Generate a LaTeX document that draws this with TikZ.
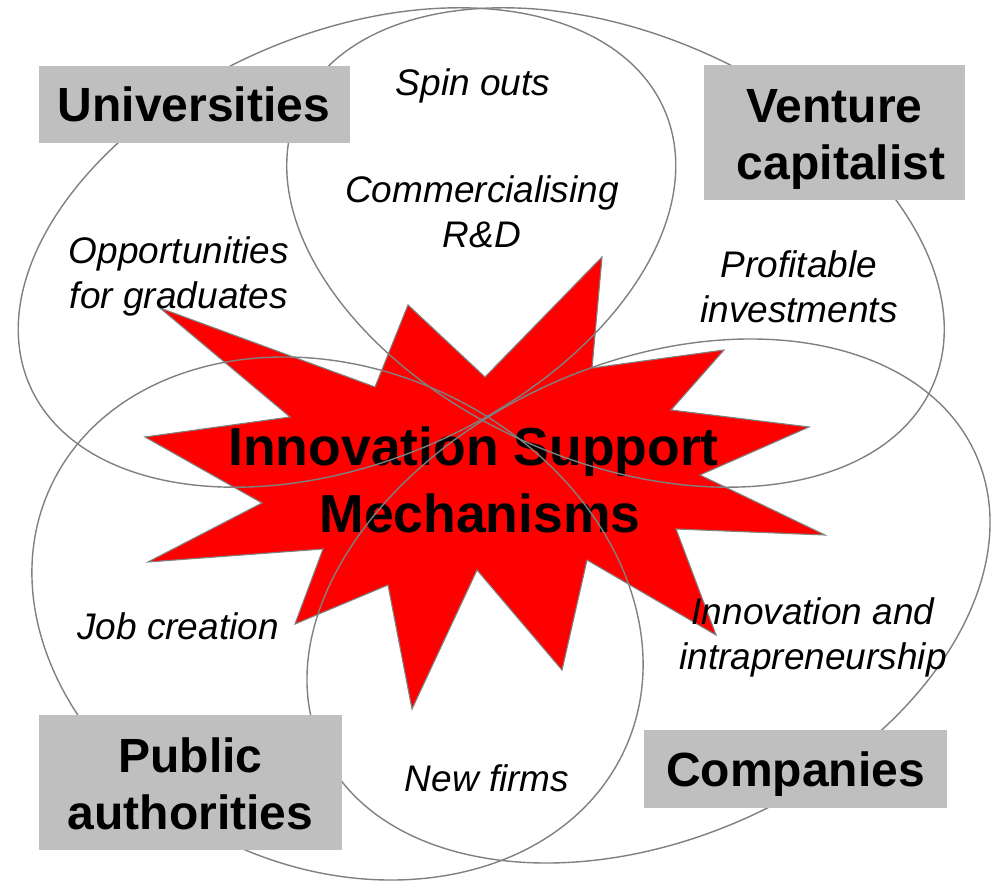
\documentclass[tikz,border=0pt]{standalone}
\usepackage{fontspec}
\setmainfont{Liberation Sans}
\definecolor{linegray}{HTML}{808080}
\definecolor{boxgray}{HTML}{BFBFBF}
\definecolor{starred}{HTML}{FF0000}
\begin{document}
\begin{tikzpicture}[x=1pt,y=-1pt,
  petal/.style={draw=linegray, line width=1.4pt},
  burst/.style={fill=starred, draw=linegray, line width=1.1pt, line join=miter},
  actorbox/.style={fill=boxgray, inner sep=0pt},
  actortext/.style={font=\fontsize{48}{57}\selectfont\bfseries, align=center, inner sep=0pt},
  titletext/.style={font=\fontsize{53.5}{67}\selectfont\bfseries, align=center, inner sep=0pt},
  benefit/.style={font=\fontsize{37}{45}\selectfont\itshape, align=center, inner sep=0pt}]
\useasboundingbox[fill=white] (0,0) rectangle (993,882);

% central burst
\filldraw[burst] (160,308) -- (375,387) -- (408,305) -- (485,377) -- (602,257)
  -- (592,368) -- (724,350) -- (671,410) -- (809,427) -- (700,475) -- (825,535)
  -- (676,529) -- (716,635) -- (587,560) -- (562,670) -- (477,570) -- (412,709)
  -- (388,585) -- (295,624) -- (323,549) -- (148,562) -- (262,503) -- (145,437)
  -- (290,417) -- cycle;
\node[titletext] (title) at (480,486) {\strut Innovation Support\kern13pt\\\strut Mechanisms};

% petals
\draw[petal, rotate around={23.4:(347,247.5)}] (347,247.5) ellipse [x radius=346, y radius=214];
\draw[petal, rotate around={-23.4:(615.5,247.5)}] (615.5,247.5) ellipse [x radius=346, y radius=214];
\draw[petal, rotate around={-24.2:(337.5,618.5)}] (337.5,618.5) ellipse [x radius=315.7, y radius=249.1];
\draw[petal, rotate around={24.1:(648.5,601)}] (648.5,601) ellipse [x radius=358.6, y radius=238];

% actor boxes
\node[actorbox, minimum width=311pt, minimum height=77pt] (ubox) at (194.5,104.5) {};
\node[actorbox, minimum width=261pt, minimum height=135pt] (vbox) at (834.5,132.5) {};
\node[actorbox, minimum width=303pt, minimum height=135pt] (pbox) at (190.5,782.5) {};
\node[actorbox, minimum width=303pt, minimum height=78pt] (cbox) at (795.5,769) {};
\node[actortext] (utext) at (194,110.6) {\strut Universities};
\node[actortext] (vtext) at (841,140.1) {\strut Venture\kern13pt\\\strut capitalist};
\node[actortext] (ptext) at (190.5,789.1) {\strut Public\\\strut authorities};
\node[actortext] (ctext) at (795.5,774.6) {\strut Companies};

% benefits
\node[benefit] (spin) at (473,87) {\strut Spin outs};
\node[benefit] (rnd) at (482,216.5) {\strut Commercialising\\\strut R\&D};
\node[benefit] (grad) at (179,277) {\strut Opportunities\\\strut for graduates};
\node[benefit] (profit) at (799,291.5) {\strut Profitable\\\strut investments};
\node[benefit] (jobs) at (178,630) {\strut Job creation};
\node[benefit] (intra) at (813,638) {\strut Innovation and\\\strut intrapreneurship};
\node[benefit] (firms) at (487,782.5) {\strut New firms};
\end{tikzpicture}
\end{document}
